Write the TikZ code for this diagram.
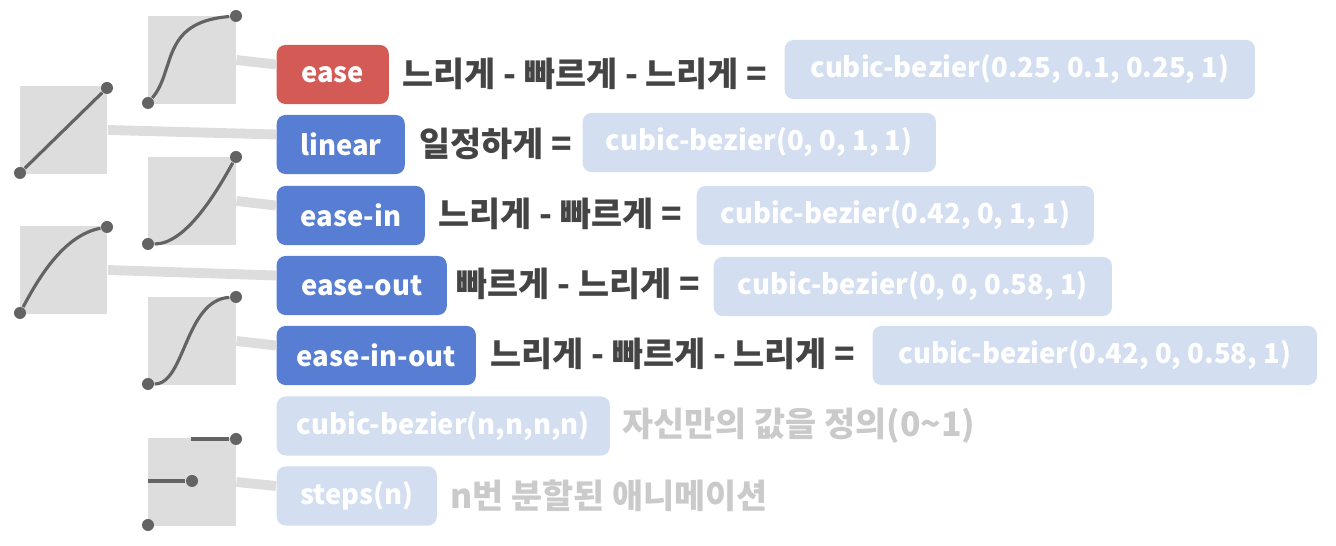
\documentclass[tikz,border=0pt]{standalone}
\usepackage{fontspec}
\setmainfont{Noto Sans CJK KR}
\definecolor{easered}{HTML}{D35A55}
\definecolor{labblue}{HTML}{587ED3}
\definecolor{paleblue}{HTML}{D3DEF0}
\definecolor{sqgray}{HTML}{DDDDDD}
\definecolor{curvegray}{HTML}{636363}
\definecolor{textgray}{HTML}{444444}
\definecolor{fadegray}{HTML}{CACACA}

\begin{document}
\begin{tikzpicture}[x = 0.01cm, y = -0.01cm,
	sq/.style = {fill = sqgray, minimum size = 0.875cm, inner sep = 0},
	lab/.style = {rounded corners = 2.5pt, minimum height = 0.59cm, anchor = west, inner sep = 0,
		text = white, font = \bfseries\fontsize{7.8}{10}\selectfont},
	desc/.style = {anchor = west, inner sep = 0, text = textgray, font = \bfseries\fontsize{9.6}{11}\selectfont},
	pt/.style = {circle, fill = curvegray, inner sep = 0, minimum size = 0.12cm},
	curve/.style = {curvegray, line width = 0.9pt},
	link/.style = {sqgray, line width = 2.8pt}]
		\useasboundingbox (0, 0) rectangle (1336, 546);
		%%%%%%%%%%%%%
		\node [sq] (sqEase) at (192, 60) {};
		\node [sq] (sqLinear) at (63.5, 130) {};
		\node [sq] (sqIn) at (192, 201) {};
		\node [sq] (sqOut) at (63.5, 270) {};
		\node [sq] (sqInOut) at (192, 341) {};
		\node [sq] (sqSteps) at (192, 482) {};
		%%%%%%%%%%%%%
		\node [pt] (e0) at (148, 103) {}; \node [pt] (e1) at (236, 16) {};
		\node [pt] (l0) at (20, 173) {}; \node [pt] (l1) at (107, 88) {};
		\node [pt] (i0) at (148, 244) {}; \node [pt] (i1) at (236, 157) {};
		\node [pt] (o0) at (20, 313) {}; \node [pt] (o1) at (107, 227) {};
		\node [pt] (io0) at (148, 384) {}; \node [pt] (io1) at (236, 297) {};
		\node [pt] (s0) at (148, 525) {}; \node [pt] (s1) at (192, 481) {}; \node [pt] (s2) at (236, 439) {};
		\coordinate (s1a) at (148, 481);
		\coordinate (s2a) at (191, 439);
		%%%%%%%%%%%%%
		\draw [curve] (e0) .. controls (176, 70) and (160, 22) .. (e1);
		\draw [curve] (l0) to (l1);
		\draw [curve] (i0) .. controls (185, 244) and (215, 195) .. (i1);
		\draw [curve] (o0) .. controls (40, 275) and (65, 235) .. (o1);
		\draw [curve] (io0) .. controls (185, 384) and (185, 300) .. (io1);
		\draw [curve] (s1a) to (s1);
		\draw [curve] (s2a) to (s2);
		%%%%%%%%%%%%%
		\node [lab, fill = easered, minimum width = 1.12cm] (ease) at (276, 74.5) {ease};
		\node [lab, fill = labblue, minimum width = 1.28cm] (linear) at (276, 144.5) {linear};
		\node [lab, fill = labblue, minimum width = 1.48cm] (easeIn) at (276, 215.5) {ease-in};
		\node [lab, fill = labblue, minimum width = 1.70cm] (easeOut) at (276, 285.5) {ease-out};
		\node [lab, fill = labblue, minimum width = 1.99cm] (easeInOut) at (276, 355.5) {ease-in-out};
		\node [lab, fill = paleblue, minimum width = 3.33cm] (custom) at (276, 426) {cubic-bezier(n,n,n,n)};
		\node [lab, fill = paleblue, minimum width = 1.60cm] (steps) at (276, 496) {steps(n)};
		%%%%%%%%%%%%%
		\node [desc] (dEase) at (402, 74) {느리게 - 빠르게 - 느리게 =};
		\node [desc] (dLinear) at (419, 144) {일정하게 =};
		\node [desc] (dIn) at (438, 214) {느리게 - 빠르게 =};
		\node [desc] (dOut) at (456, 284) {빠르게 - 느리게 =};
		\node [desc] (dInOut) at (490, 354) {느리게 - 빠르게 - 느리게 =};
		\node [desc, text = fadegray] (dCustom) at (622, 426) {자신만의 값을 정의(0\textasciitilde1)};
		\node [desc, text = fadegray] (dSteps) at (450, 496) {n번 분할된 애니메이션};
		%%%%%%%%%%%%%
		\node [lab, fill = paleblue, minimum width = 4.70cm] (cbEase) at (784, 69.5) {cubic-bezier(0.25, 0.1, 0.25, 1)};
		\node [lab, fill = paleblue, minimum width = 3.53cm] (cbLinear) at (582, 142.5) {cubic-bezier(0, 0, 1, 1)};
		\node [lab, fill = paleblue, minimum width = 3.97cm] (cbIn) at (696, 215.5) {cubic-bezier(0.42, 0, 1, 1)};
		\node [lab, fill = paleblue, minimum width = 3.98cm] (cbOut) at (713, 286.5) {cubic-bezier(0, 0, 0.58, 1)};
		\node [lab, fill = paleblue, minimum width = 4.44cm] (cbInOut) at (872, 355.5) {cubic-bezier(0.42, 0, 0.58, 1)};
		%%%%%%%%%%%%%
		\draw [link] (sqEase.east) to ([yshift = 0.1cm] ease.west);
		\draw [link] (sqLinear.east) to ([yshift = 0.1cm] linear.west);
		\draw [link] (sqIn.east) to ([yshift = 0.1cm] easeIn.west);
		\draw [link] (sqOut.east) to ([yshift = 0.1cm] easeOut.west);
		\draw [link] (sqInOut.east) to ([yshift = 0.1cm] easeInOut.west);
		\draw [link] (sqSteps.east) to ([yshift = 0.1cm] steps.west);
\end{tikzpicture}
\end{document}
